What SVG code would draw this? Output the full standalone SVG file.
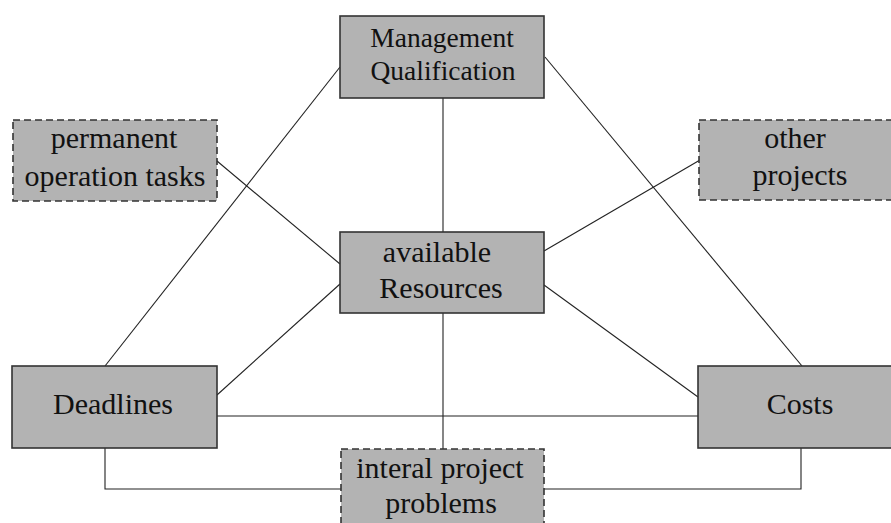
<svg xmlns="http://www.w3.org/2000/svg" width="891" height="523" viewBox="0 0 891 523">
  <style>
    .box { fill: #b3b3b3; stroke: #333333; stroke-width: 1.6; }
    .dash { stroke-dasharray: 7 4; }
    .lbl { font-family: 'Liberation Serif', 'Times New Roman', serif; font-size: 30px; fill: #111111; text-anchor: middle; }
    .small { font-size: 27.5px; }
    .wire { fill: none; stroke: #222222; stroke-width: 1.1; }
  </style>
  <rect width="891" height="523" fill="#ffffff"/>

  <!-- connectors -->
  <g id="connectors">
    <line class="wire" x1="443" y1="98" x2="443" y2="232"/>
    <line class="wire" x1="443" y1="313" x2="443" y2="449"/>
    <line class="wire" x1="340" y1="67" x2="105" y2="366"/>
    <line class="wire" x1="545" y1="57" x2="802" y2="366"/>
    <line class="wire" x1="217" y1="161" x2="340" y2="264"/>
    <line class="wire" x1="217" y1="395" x2="340" y2="284"/>
    <line class="wire" x1="700" y1="160" x2="544" y2="251"/>
    <line class="wire" x1="544" y1="285" x2="698" y2="397"/>
    <line class="wire" x1="217" y1="416" x2="698" y2="416" stroke-width="1.5"/>
    <polyline class="wire" points="105,448 105,489 801,489 801,448" stroke-width="1.5"/>
  </g>

  <g id="management">
    <rect class="box" x="340" y="16" width="204" height="82"/>
    <text class="lbl small" x="442" y="47">Management</text>
    <text class="lbl small" x="443" y="80">Qualification</text>
  </g>

  <g id="permanent">
    <rect class="box dash" x="13" y="120" width="204" height="81"/>
    <text class="lbl" x="114" y="148">permanent</text>
    <text class="lbl" x="115" y="186">operation tasks</text>
  </g>

  <g id="other">
    <rect class="box dash" x="699" y="120" width="200" height="80"/>
    <text class="lbl" x="795" y="148">other</text>
    <text class="lbl" x="800" y="185">projects</text>
  </g>

  <g id="resources">
    <rect class="box" x="340" y="232" width="204" height="81"/>
    <text class="lbl" x="437" y="262">available</text>
    <text class="lbl" x="441" y="298">Resources</text>
  </g>

  <g id="deadlines">
    <rect class="box" x="12" y="366" width="205" height="82"/>
    <text class="lbl" x="113" y="414">Deadlines</text>
  </g>

  <g id="costs">
    <rect class="box" x="698" y="366" width="205" height="82"/>
    <text class="lbl" x="800" y="414">Costs</text>
  </g>

  <g id="internal">
    <rect class="box dash" x="341" y="449" width="203" height="82"/>
    <text class="lbl" x="440" y="478">interal project</text>
    <text class="lbl" x="441" y="513">problems</text>
  </g>
</svg>
